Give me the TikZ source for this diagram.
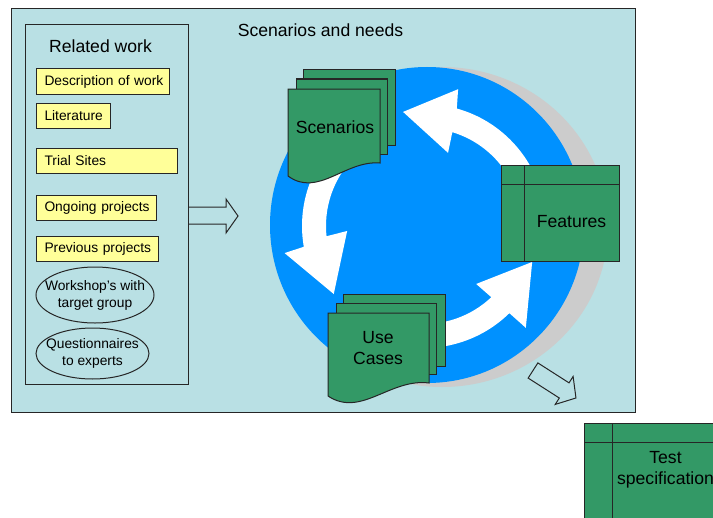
\documentclass[tikz,border=0pt]{standalone}
\usepackage{fontspec}
\setmainfont{Liberation Sans}
\usetikzlibrary{shapes.geometric}
\definecolor{panelbg}{RGB}{185,224,228}
\definecolor{ringblue}{RGB}{0,145,255}
\definecolor{shadowgray}{RGB}{204,204,204}
\definecolor{docgreen}{RGB}{51,153,102}
\definecolor{noteyellow}{RGB}{255,255,153}
\newcommand\smallfont{\fontsize{10.35}{12.75}\selectfont}
\newcommand\largefont{\fontsize{13.2}{15.75}\selectfont}
\tikzset{
  outline/.style={draw=black!85, line width=0.75pt},
  notebox/.style={outline, fill=noteyellow, anchor=west, minimum height=18.75pt,
    inner xsep=6pt, inner ysep=0pt, align=left, font=\smallfont},
  oval/.style={outline, ellipse, inner sep=0pt},
  ovaltext/.style={inner sep=0pt, align=center, font=\smallfont},
  greenbox/.style={outline, fill=docgreen},
  caption/.style={inner sep=0pt, align=center, font=\largefont},
  ringarrow/.style={fill=white},
  blockarrow/.style={outline, line join=miter},
}
\begin{document}
\begin{tikzpicture}[x=0.75pt,y=-0.75pt]
\useasboundingbox (0,0) rectangle (713,517);
\clip (0,0) rectangle (713,517);
\fill[white] (0,0) rectangle (713,517);

% outer panel
\node[outline, fill=panelbg, anchor=north west, minimum width=468pt,
  minimum height=303pt, inner sep=0pt] (panel) at (11,8) {};
\node[caption] (needs) at (320.5,30) {Scenarios and needs};

% related work column
\node[outline, anchor=north west, minimum width=122.25pt, minimum height=270pt,
  inner sep=0pt] (related) at (25,24) {};
\node[caption] (relatedtitle) at (100.5,46) {Related work};

\node[notebox, text width=87.75pt] (dow) at (36,81.5) {\mbox{Description of work}};
\node[notebox, text width=43.5pt] (lit) at (36,115.5) {\mbox{Literature}};
\node[notebox, text width=93.75pt] (trial) at (36,161) {\mbox{Trial Sites}};
\node[notebox, text width=78pt] (ongoing) at (36,207.5) {\mbox{Ongoing projects}};
\node[notebox, text width=79.5pt] (previous) at (36,249) {\mbox{Previous projects}};

\node[oval, minimum width=88.5pt, minimum height=42pt] (workshop) at (95,295) {};
\node[ovaltext] (workshoptext) at (workshop.center) {Workshop’s with\\target group};
\node[oval, minimum width=84.75pt, minimum height=38.25pt] (quest) at (92.5,353.5) {};
\node[ovaltext] (questtext) at (quest.center) {Questionnaires\\to experts};

% block arrow from the related work column
\draw[blockarrow] (related.east |- 0,207) -- (226,207) -- (226,199) -- (238,216)
  -- (226,233) -- (226,224) -- (related.east |- 0,224);

% cycle disc with its shadow
\fill[shadowgray] (442,227) ellipse[x radius=166, y radius=160];
\fill[ringblue] (427,225) ellipse[x radius=157, y radius=158];

% three curved arrows of the cycle
\begin{scope}[shift={(424,226)}]
  \fill[ringarrow] (-12:122) arc[start angle=-12, end angle=-74.4, radius=122]
    -- (-76:141) -- (-100.4:116) -- (-71.8:77) -- (-73.2:98)
    arc[start angle=-73.2, end angle=-12, radius=98] -- cycle;
  \fill[ringarrow] (-115:122) arc[start angle=-115, end angle=-189.8, radius=122]
    -- (-191:142) -- (-217:113) -- (-183.7:77) -- (-186:98)
    arc[start angle=-186, end angle=-115, radius=98] -- cycle;
  \fill[ringarrow] (95:122) arc[start angle=95, end angle=45.6, radius=122]
    -- (45:144) -- (18.4:114) -- (48:78) -- (46.6:98)
    arc[start angle=46.6, end angle=95, radius=98] -- cycle;
\end{scope}

% Scenarios document stack
\draw[greenbox] (303,70) rectangle (395,145);
\draw[greenbox] (296,79) rectangle (387,154);
\draw[greenbox] (288,89) -- (380,89) -- (380,163)
  .. controls (345,160) and (318,198) .. (288,176) -- cycle;
\node[caption] (scen) at (335,127) {Scenarios};

% Use Cases document stack
\draw[greenbox] (343,294) rectangle (445,366);
\draw[greenbox] (336,303) rectangle (436,374);
\draw[greenbox] (328,313) -- (429,313) -- (429,383)
  .. controls (390,378) and (361,418) .. (328,396) -- cycle;
\node[caption] (usecases) at (378,348.5) {Use\\Cases};

% Features table
\node[greenbox, anchor=north west, minimum width=88.5pt, minimum height=72pt,
  inner sep=0pt] (feat) at (501,165) {};
\draw[outline] ([xshift=17.25pt]feat.north west) -- ([xshift=17.25pt]feat.south west);
\draw[outline] ([yshift=-14.25pt]feat.north west) -- ([yshift=-14.25pt]feat.north east);
\node[caption] (feattext) at (571.5,222) {Features};

% arrow towards the test specification
\begin{scope}[shift={(533,370.5)}, rotate=-32.6]
  \draw[blockarrow] (0,-9) -- (37,-9) -- (37,-16.6) -- (51,0) -- (37,16.6)
    -- (37,9) -- (0,9) -- cycle;
\end{scope}

% Test specification table
\node[greenbox, anchor=north west, minimum width=105pt, minimum height=82.5pt,
  inner sep=0pt] (test) at (584,423) {};
\draw[outline] ([xshift=21pt]test.north west) -- ([xshift=21pt]test.south west);
\draw[outline] ([yshift=-14.25pt]test.north west) -- ([yshift=-14.25pt]test.north east);
\node[caption] (testtext) at (665.5,470) {Test\\specification};
\end{tikzpicture}
\end{document}
